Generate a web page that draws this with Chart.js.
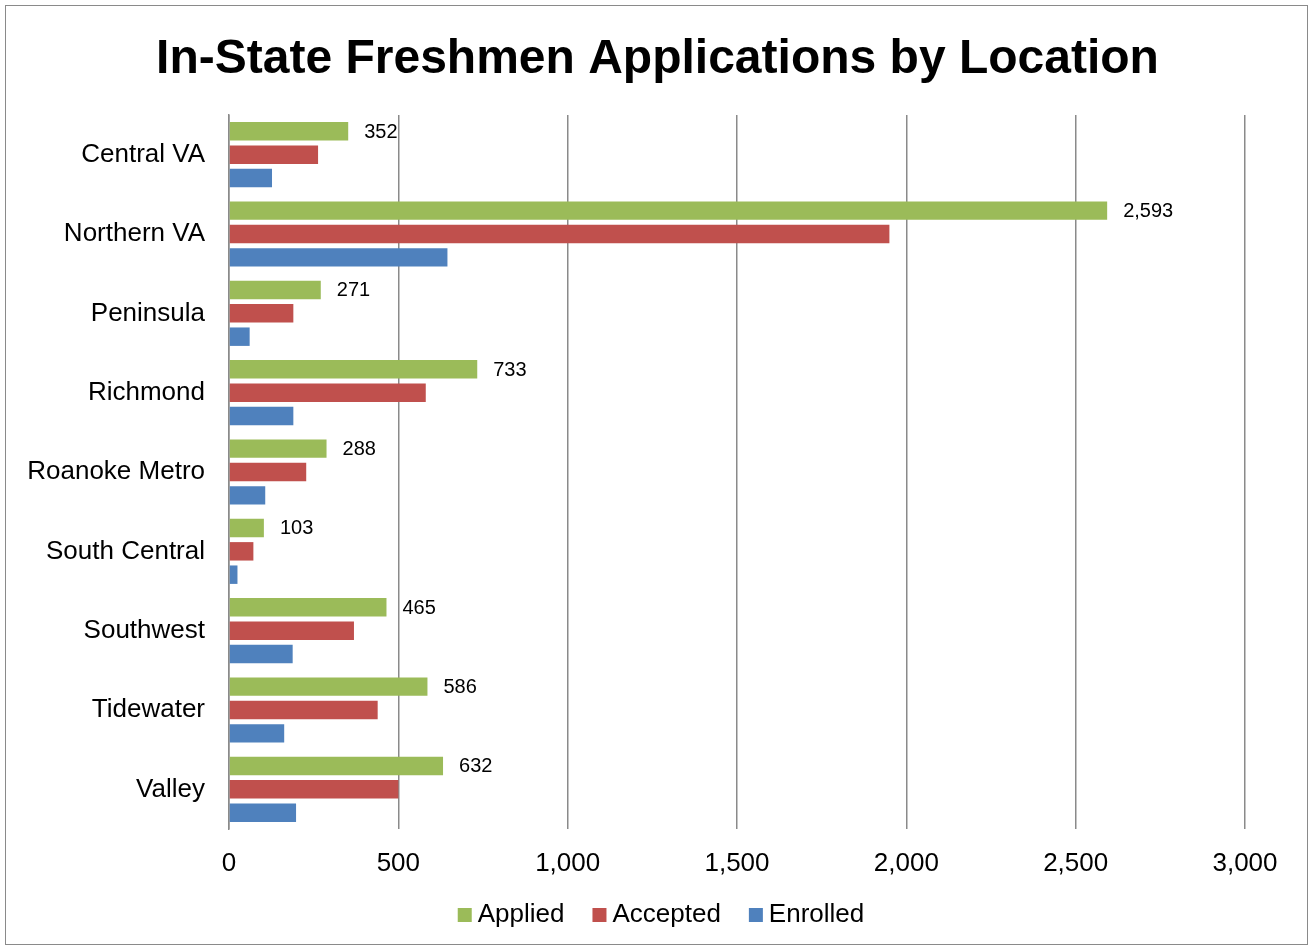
<!DOCTYPE html>
<html>
<head>
<meta charset="utf-8">
<script src="https://cdn.jsdelivr.net/npm/chart.js@4/dist/chart.umd.min.js"></script>
<style>
  html, body { margin: 0; padding: 0; background: #fff; overflow: hidden; }
  #wrap { position: relative; width: 1309px; height: 949px; }
  #frame { position: absolute; left: 5px; top: 5px; width: 1303px; height: 940px; box-sizing: border-box; border: 1.5px solid #8a8a8a; pointer-events: none; }
  canvas { position: absolute; left: 0; top: 0; }
</style>
</head>
<body>
<div id="wrap">
  <canvas id="c" width="1309" height="949"></canvas>
  <div id="frame"></div>
</div>
<script>
const titleText = "In-State Freshmen Applications by Location";
const categories = ["Central VA", "Northern VA", "Peninsula", "Richmond", "Roanoke Metro", "South Central", "Southwest", "Tidewater", "Valley"];
const seriesNames = ["Applied", "Accepted", "Enrolled"];
const applied  = [352, 2593, 271, 733, 288, 103, 465, 586, 632];
const accepted = [263, 1950, 190, 581, 228, 72, 369, 439, 500];
const enrolled = [127, 645, 61, 190, 107, 25, 188, 163, 198];
const xTicks = [0, 500, 1000, 1500, 2000, 2500, 3000];

const FONT = "'Liberation Sans', Arial, sans-serif";

// value labels at the end of the "Applied" bars
const dataLabels = {
  id: 'dataLabels',
  afterDatasetsDraw(chart) {
    const ctx = chart.ctx;
    const meta = chart.getDatasetMeta(0);
    ctx.save();
    ctx.font = "20px " + FONT;
    ctx.fillStyle = "#000";
    ctx.textAlign = "left";
    ctx.textBaseline = "middle";
    meta.data.forEach((bar, i) => {
      const v = chart.data.datasets[0].data[i];
      ctx.fillText(v.toLocaleString('en-US'), bar.x + 16, bar.y + 1);
    });
    ctx.restore();
  }
};

// chart title centred on the whole chart frame
const titlePlugin = {
  id: 'frameTitle',
  afterDraw(chart) {
    const ctx = chart.ctx;
    ctx.save();
    ctx.font = "bold 48px " + FONT;
    ctx.fillStyle = "#000";
    ctx.textAlign = "center";
    ctx.textBaseline = "alphabetic";
    ctx.fillText(titleText, 657.5, 73);
    ctx.restore();
  }
};

// legend in Excel style (small square, short gap)
const legendPlugin = {
  id: 'frameLegend',
  afterDraw(chart) {
    const ctx = chart.ctx;
    const ds = chart.data.datasets;
    const box = 14, gap = 6, space = 28;
    ctx.save();
    ctx.font = "26px " + FONT;
    const widths = ds.map(d => ctx.measureText(d.label).width);
    const total = widths.reduce((a, w) => a + box + gap + w, 0) + space * (ds.length - 1);
    let x = 661 - total / 2;
    const cy = 915;
    ds.forEach((d, i) => {
      ctx.fillStyle = d.backgroundColor;
      ctx.fillRect(x, cy - box / 2, box, box);
      x += box + gap;
      ctx.fillStyle = "#000";
      ctx.textAlign = "left";
      ctx.textBaseline = "middle";
      ctx.fillText(d.label, x, cy);
      x += widths[i] + space;
    });
    ctx.restore();
  }
};

new Chart(document.getElementById('c'), {
  type: 'bar',
  data: {
    labels: categories,
    datasets: [
      { label: seriesNames[0], data: applied,  backgroundColor: '#9BBB59' },
      { label: seriesNames[1], data: accepted, backgroundColor: '#C0504D' },
      { label: seriesNames[2], data: enrolled, backgroundColor: '#4F81BD' }
    ]
  },
  options: {
    indexAxis: 'y',
    responsive: false,
    animation: false,
    categoryPercentage: 0.883,
    barPercentage: 0.79,
    layout: { padding: { left: 0, right: 64, top: 115, bottom: 69 } },
    plugins: {
      title: { display: false },
      legend: { display: false },
      tooltip: { enabled: false }
    },
    scales: {
      x: {
        min: 0, max: 3000,
        afterBuildTicks(scale) { scale.ticks = xTicks.map(v => ({ value: v })); },
        afterFit(scale) { scale.height = 51; },
        ticks: {
          color: '#000',
          font: { family: FONT, size: 26 },
          padding: 19,
          callback: v => Number(v).toLocaleString('en-US')
        },
        grid: { color: '#8a8a8a', lineWidth: 1.5, drawTicks: false },
        border: { display: false }
      },
      y: {
        afterFit(scale) { scale.width = 229; },
        ticks: {
          color: '#000',
          font: { family: FONT, size: 26 },
          padding: 24
        },
        grid: { display: false, drawTicks: false },
        border: { display: true, color: '#8a8a8a', width: 1.5 }
      }
    }
  },
  plugins: [dataLabels, titlePlugin, legendPlugin]
});
</script>
</body>
</html>
